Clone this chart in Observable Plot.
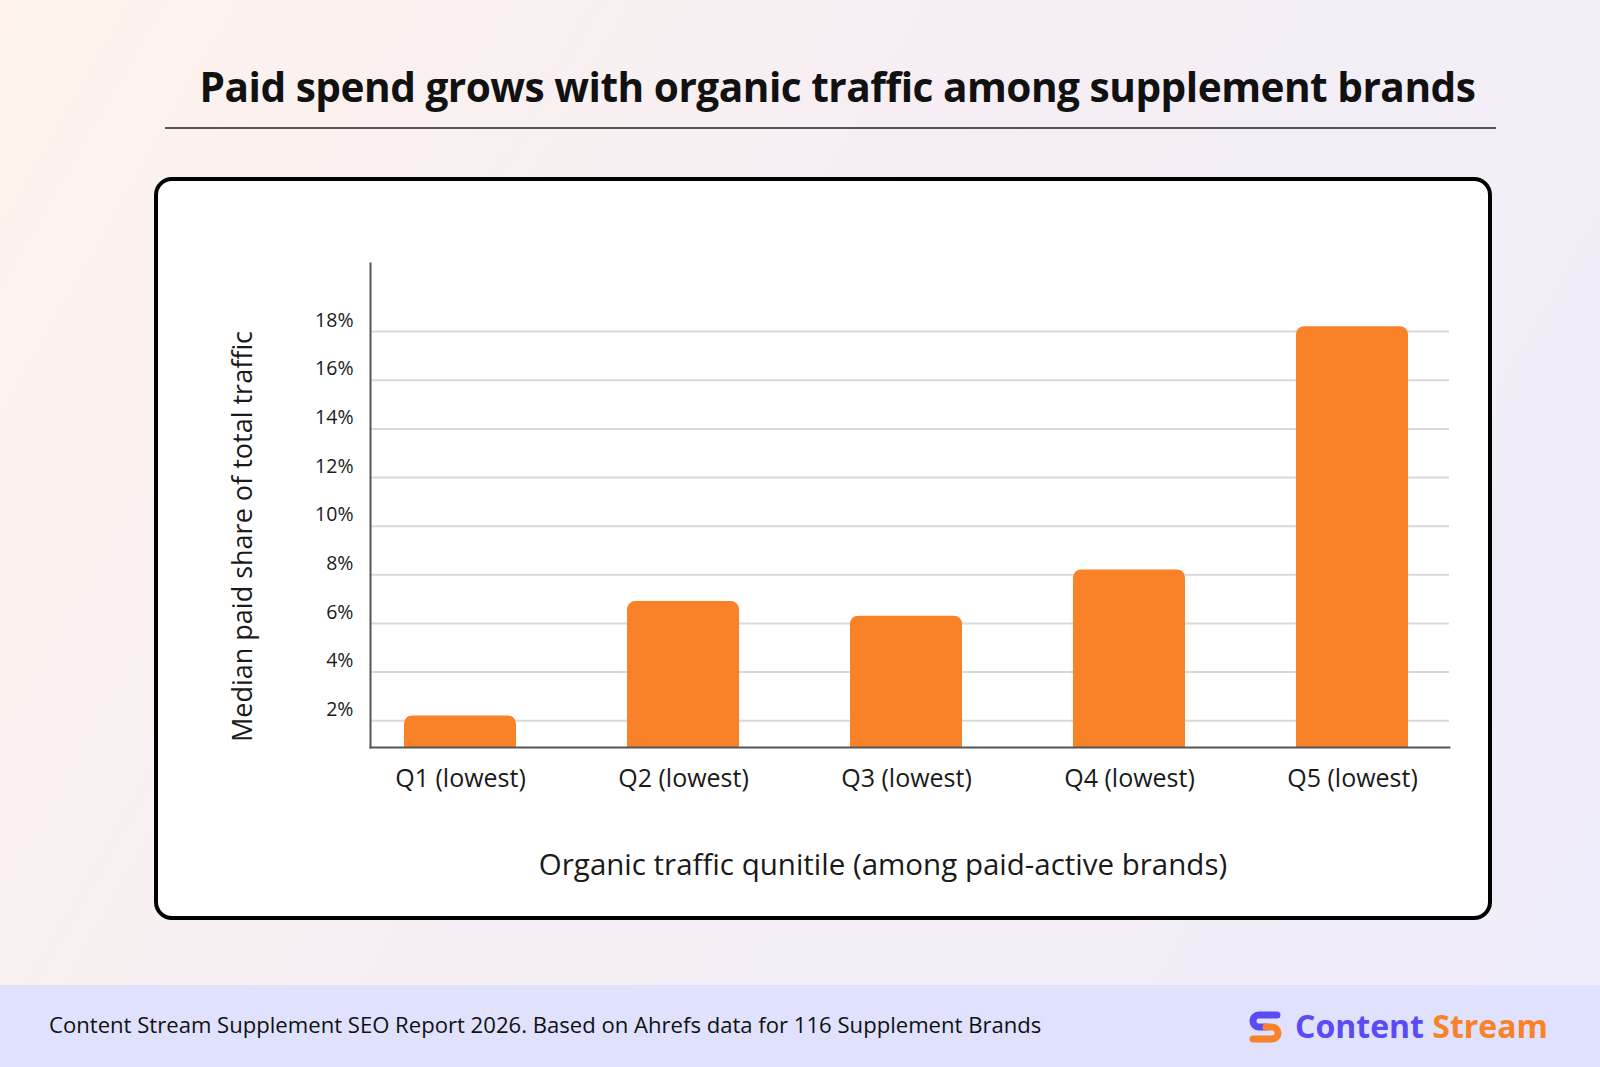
<!DOCTYPE html>
<html><head><meta charset="utf-8">
<script src="https://cdn.jsdelivr.net/npm/d3@7"></script>
<script src="https://cdn.jsdelivr.net/npm/@observablehq/plot@0.6"></script>
<style>
html,body{margin:0;padding:0;}
body{width:1600px;height:1067px;position:relative;overflow:hidden;background:linear-gradient(120deg,#fdf3ec 0%,#f6eef4 45%,#efedfa 100%);font-family:"Open Sans",sans-serif;color:#111;}
#title{position:absolute;left:172px;width:1331px;top:59px;text-align:center;font-weight:700;font-size:40.6px;line-height:56px;white-space:nowrap;letter-spacing:-0.5px;}
#rule{position:absolute;left:165px;width:1331px;top:127px;height:2px;background:#555;}
#card{position:absolute;left:154px;top:177px;width:1330px;height:735px;border:4px solid #000;border-radius:18px;background:#fff;}
#chart{position:absolute;left:160px;top:185px;}
#footer{position:absolute;left:0;top:985px;width:1600px;height:82px;background:#dfe1fd;}
#source{position:absolute;left:49px;top:1010px;font-size:22.1px;line-height:28px;color:#111;white-space:nowrap;}
#logo{position:absolute;left:1247px;top:1006px;height:40px;display:flex;align-items:center;white-space:nowrap;}
#logo span.t{font-weight:700;font-size:32px;line-height:40px;margin-left:12px;}
</style></head>
<body>
<div id="title">Paid spend grows with organic traffic among supplement brands</div>
<div id="rule"></div>
<div id="card"></div>
<div id="chart"></div>
<div id="footer"></div>
<div id="source">Content Stream Supplement SEO Report 2026. Based on Ahrefs data for 116 Supplement Brands</div>
<div id="logo">
<svg width="36" height="34" viewBox="0 0 36 34">
<path d="M30 6 H12 A6 6 0 0 0 12 18 H19" fill="none" stroke="#5a4bf4" stroke-width="7" stroke-linecap="round"/>
<path d="M19 18 H25 A6 6 0 0 1 25 30 H6" fill="none" stroke="#f98229" stroke-width="7" stroke-linecap="round"/>
<circle cx="12" cy="12" r="2.2" fill="#dfe1fd"/>
<circle cx="24" cy="18" r="2.6" fill="#f98229"/>
</svg>
<span class="t"><span style="color:#5a4bf4">Content</span> <span style="color:#f98229">Stream</span></span>
</div>
<script>
const quintiles = ["Q1 (lowest)", "Q2 (lowest)", "Q3 (lowest)", "Q4 (lowest)", "Q5 (lowest)"];
const paidShare = [2.2, 6.9, 6.3, 8.2, 18.2];
const yTicks = [2, 4, 6, 8, 10, 12, 14, 16, 18];
const yTitle = "Median paid share of total traffic";
const xTitle = "Organic traffic qunitile (among paid-active brands)";

const data = quintiles.map((q, i) => ({q, v: paidShare[i]}));

const chart = Plot.plot({
  width: 1320,
  height: 720,
  marginLeft: 210,
  marginRight: 31,
  marginTop: 78,
  marginBottom: 158,
  style: {fontFamily: "Open Sans", color: "#1a1a1a", background: "transparent", overflow: "visible"},
  x: {domain: quintiles, paddingInner: 0.5, paddingOuter: 0.16, align: 0.45, label: null},
  y: {domain: [0.9, 20.8], label: null},
  marks: [
    Plot.gridY(yTicks, {stroke: "#d9d9d9", strokeOpacity: 1, strokeWidth: 2}),
    Plot.barY(data, {x: "q", y: "v", fill: "#f98229", rx: 8, clip: true}),
    Plot.frame({anchor: "left", stroke: "#555", strokeWidth: 2}),
    Plot.frame({anchor: "bottom", stroke: "#555", strokeWidth: 2}),
    Plot.axisY(yTicks, {tickSize: 0, tickPadding: 17, dy: -11, fontSize: 19.5, fontWeight: 500, tickFormat: d => d + "%", label: null}),
    Plot.axisX({tickSize: 0, tickPadding: 22, fontSize: 25, fontWeight: 500, label: null}),
    Plot.text([yTitle], {frameAnchor: "left", dx: -127, dy: 31, rotate: -90, textAnchor: "middle", fontSize: 27, fontWeight: 500, text: d => d}),
    Plot.text([xTitle], {frameAnchor: "bottom", dx: -27, dy: 127, fontSize: 29.5, fontWeight: 500, text: d => d})
  ]
});
document.getElementById("chart").appendChild(chart);
</script>
</body></html>
